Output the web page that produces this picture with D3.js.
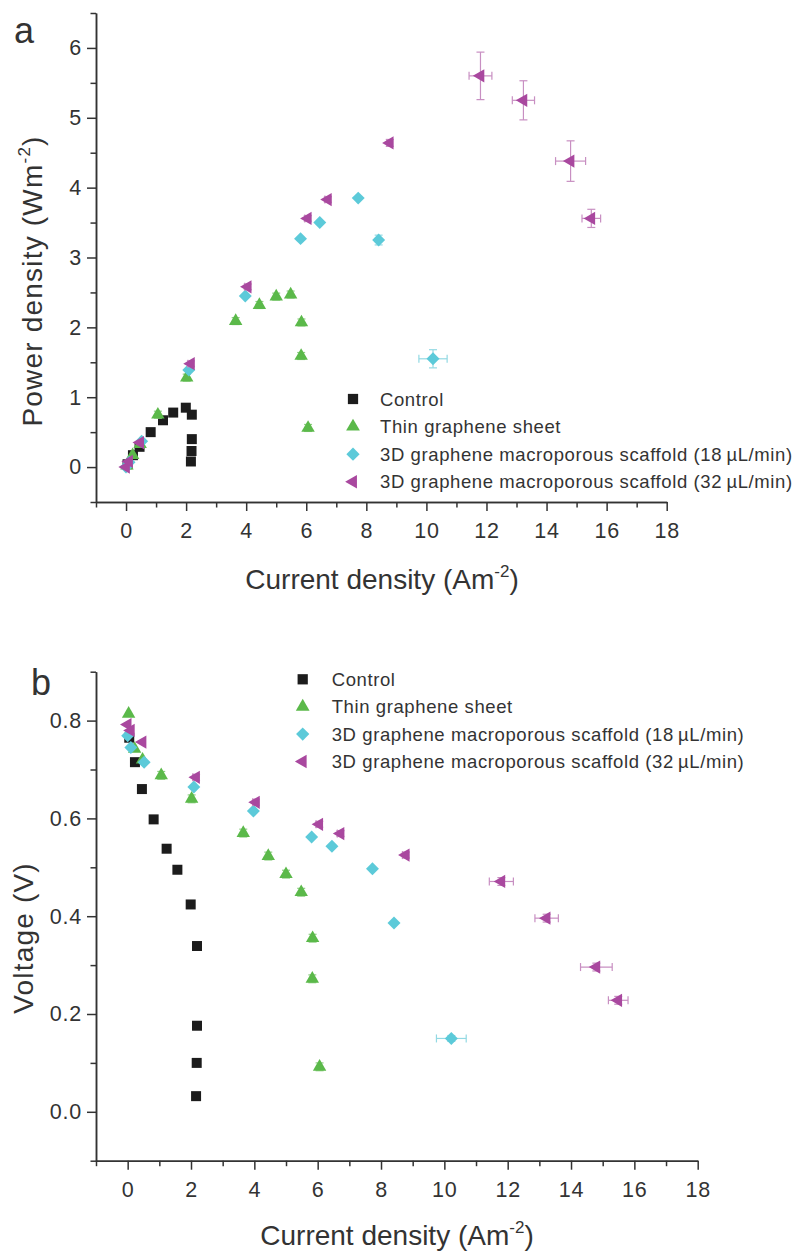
<!DOCTYPE html>
<html>
<head>
<meta charset="utf-8">
<script src="https://cdn.jsdelivr.net/npm/d3@7"></script>
<style>
  body { margin: 0; background: #fff; }
  text { font-family: "Liberation Sans", Arial, sans-serif; fill: #333; }
</style>
</head>
<body>
<div id="chart"></div>
<script>
// Series names (legend)
const seriesNames = [
  'Control',
  'Thin graphene sheet',
  '3D graphene macroporous scaffold (18\u2009\u00b5L/min)',
  '3D graphene macroporous scaffold (32\u2009\u00b5L/min)'
];

// Control
const currentControl = [0.05, 0.23, 0.45, 0.82, 1.23, 1.57, 1.99, 2.19, 2.19, 2.18, 2.16];
const powerControl = [0.04, 0.17, 0.29, 0.50, 0.67, 0.78, 0.85, 0.75, 0.40, 0.23, 0.08];
const voltageControl = [0.765, 0.715, 0.66, 0.598, 0.538, 0.495, 0.424, 0.339, 0.176, 0.100, 0.032];

// Thin graphene sheet
const currentThin = [0.03, 0.22, 0.47, 1.06, 2.02, 3.65, 4.44, 5.0, 5.48, 5.84, 5.83, 6.06];
const powerThin = [0.02, 0.17, 0.33, 0.75, 1.28, 2.09, 2.32, 2.44, 2.47, 2.07, 1.59, 0.56];
const voltageThin = [0.814, 0.742, 0.72, 0.688, 0.64, 0.57, 0.523, 0.486, 0.449, 0.355, 0.272, 0.092];
const powerErrThin = [0, 0, 0, 0.05, 0.05, 0.05, 0.05, 0.05, 0.05, 0.05, 0.05, 0.05];
const voltageErrThin = [0, 0, 0, 0.008, 0.008, 0.008, 0.008, 0.008, 0.008, 0.008, 0.008, 0.008];

// 3D scaffold 18 uL/min
const current18 = [0.0, 0.1, 0.52, 2.09, 3.97, 5.81, 6.45, 7.73, 8.41, 10.22];
const power18 = [0.0, 0.07, 0.37, 1.39, 2.45, 3.27, 3.50, 3.85, 3.25, 1.55];
const voltage18 = [0.769, 0.745, 0.715, 0.664, 0.615, 0.562, 0.543, 0.497, 0.386, 0.150];
const currentErr18 = [0, 0, 0, 0, 0, 0, 0, 0, 0.05, 0.47];
const powerErr18 = [0, 0, 0, 0, 0, 0, 0, 0, 0.07, 0.13];
const voltageErr18 = [0, 0, 0, 0, 0, 0, 0, 0, 0, 0.006];

// 3D scaffold 32 uL/min
const current32 = [0.0, 0.1, 0.47, 2.16, 4.05, 6.05, 6.72, 8.78, 11.8, 13.23, 14.8, 15.49];
const power32 = [0.0, 0.08, 0.35, 1.48, 2.58, 3.56, 3.83, 4.64, 5.60, 5.25, 4.38, 3.56];
const voltage32 = [0.792, 0.78, 0.756, 0.684, 0.633, 0.588, 0.569, 0.525, 0.471, 0.396, 0.296, 0.228];
const currentErr32 = [0, 0, 0, 0.1, 0.1, 0.1, 0.1, 0.1, 0.38, 0.37, 0.5, 0.31];
const powerErr32 = [0, 0, 0, 0.04, 0.04, 0.04, 0.04, 0.05, 0.34, 0.28, 0.29, 0.13];
const voltageErr32 = [0, 0, 0, 0.006, 0.006, 0.006, 0.006, 0.006, 0.008, 0.008, 0.008, 0.008];

// Axis ticks
const xTicks = [0, 2, 4, 6, 8, 10, 12, 14, 16, 18];
const xMinor = [-1, 1, 3, 5, 7, 9, 11, 13, 15, 17];
const powerTicks = [0, 1, 2, 3, 4, 5, 6];
const powerMinor = [-0.5, 0.5, 1.5, 2.5, 3.5, 4.5, 5.5, 6.5];
const voltageTicks = [0.0, 0.2, 0.4, 0.6, 0.8];
const voltageMinor = [-0.1, 0.1, 0.3, 0.5, 0.7, 0.9];

// Estilos de cada serie
const styles = [
  { color: '#1c1c1c', err: '#555', shape: d3.symbolSquare, size: 100, rot: 0 },
  { color: '#5bb94a', err: '#8fcf84', shape: d3.symbolTriangle, size: 78, rot: 0 },
  { color: '#5ccad9', err: '#93d9e3', shape: d3.symbolSquare, size: 84, rot: 45 },
  { color: '#a9489f', err: '#c88fc2', shape: d3.symbolTriangle, size: 76, rot: -90 }
];

const svg = d3.select('#chart').append('svg')
  .attr('width', 799).attr('height', 1253);

function makeSeries(xs, ys, xe, ye) {
  return xs.map((x, i) => ({ x: x, y: ys[i], xe: xe ? xe[i] : 0, ye: ye ? ye[i] : 0 }));
}

function drawPanel(cfg) {
  const x = d3.scaleLinear().domain([-1, 18]).range(cfg.xRange);
  const y = d3.scaleLinear().domain(cfg.yDomain).range(cfg.yRange);
  const g = svg.append('g');

  // Ejes
  g.append('g').attr('transform', `translate(0,${cfg.yRange[0]})`)
    .call(d3.axisBottom(x).tickValues(xTicks).tickSize(9).tickSizeOuter(0).tickPadding(12));
  g.append('g').attr('transform', `translate(0,${cfg.yRange[0]})`)
    .call(d3.axisBottom(x).tickValues(xMinor).tickSize(5.5).tickSizeOuter(0).tickFormat(() => ''));
  g.append('g').attr('transform', `translate(${cfg.xRange[0]},0)`)
    .call(d3.axisLeft(y).tickValues(cfg.yTicks).tickSize(9).tickSizeOuter(0).tickPadding(5)
      .tickFormat(cfg.yFormat));
  g.append('g').attr('transform', `translate(${cfg.xRange[0]},0)`)
    .call(d3.axisLeft(y).tickValues(cfg.yMinor).tickSize(5.5).tickSizeOuter(0).tickFormat(() => ''));

  g.selectAll('.domain, .tick line').attr('stroke', '#333').attr('stroke-width', 1.5);
  g.selectAll('.tick text').attr('font-size', 21.5).attr('fill', '#333')
    .style('font-family', '"Liberation Sans", Arial, sans-serif')
    .style('letter-spacing', '0.8px');

  // Series: error bars then markers
  cfg.series.forEach((data, si) => {
    const st = styles[si];
    const eg = g.append('g').attr('stroke', st.err).attr('stroke-width', 1.2);
    data.forEach((d) => {
      if (d.ye > 0) {
        const y0 = y(d.y - d.ye), y1 = y(d.y + d.ye), cx = x(d.x);
        eg.append('line').attr('x1', cx).attr('x2', cx).attr('y1', y0).attr('y2', y1);
        eg.append('line').attr('x1', cx - 4).attr('x2', cx + 4).attr('y1', y0).attr('y2', y0);
        eg.append('line').attr('x1', cx - 4).attr('x2', cx + 4).attr('y1', y1).attr('y2', y1);
      }
      if (d.xe > 0) {
        const x0 = x(d.x - d.xe), x1 = x(d.x + d.xe), cy = y(d.y);
        eg.append('line').attr('x1', x0).attr('x2', x1).attr('y1', cy).attr('y2', cy);
        eg.append('line').attr('x1', x0).attr('x2', x0).attr('y1', cy - 4).attr('y2', cy + 4);
        eg.append('line').attr('x1', x1).attr('x2', x1).attr('y1', cy - 4).attr('y2', cy + 4);
      }
    });
    g.append('g').selectAll('path').data(data).join('path')
      .attr('d', d3.symbol().type(st.shape).size(st.size))
      .attr('transform', (d) => `translate(${x(d.x)},${y(d.y)}) rotate(${st.rot})`)
      .attr('fill', st.color);
  });

  // Leyenda
  seriesNames.forEach((name, i) => {
    const st = styles[i];
    const ly = cfg.legend.y + i * cfg.legend.step;
    g.append('path')
      .attr('d', d3.symbol().type(st.shape).size(st.size * 1.05))
      .attr('transform', `translate(${cfg.legend.x},${ly}) rotate(${st.rot})`)
      .attr('fill', st.color);
    g.append('text').attr('x', cfg.legend.x + cfg.legend.gap).attr('y', ly).attr('dy', '0.36em')
      .attr('font-size', 18.5).style('letter-spacing', '0.6px').text(name);
  });

  // Títulos de ejes
  const xt = g.append('text').attr('x', cfg.xLabel.x).attr('y', cfg.xLabel.y)
    .attr('text-anchor', 'middle').attr('font-size', 28);
  xt.append('tspan').text('Current density (Am');
  xt.append('tspan').attr('font-size', 17).attr('dy', -12).text('-2');
  xt.append('tspan').attr('dy', 12).text(')');

  const yt = g.append('text')
    .attr('transform', `translate(${cfg.yLabel.x},${cfg.yLabel.y}) rotate(-90)`)
    .attr('text-anchor', 'middle').attr('font-size', 28).style('letter-spacing', '1.2px');
  cfg.yLabel.parts.forEach((p) => {
    const t = yt.append('tspan').text(p.t);
    if (p.sup) t.attr('font-size', 17).attr('dy', p.dy);
    else if (p.dy) t.attr('dy', p.dy);
  });

  g.append('text').attr('x', cfg.letter.x).attr('y', cfg.letter.y)
    .attr('font-size', 36).text(cfg.letter.t);
}

drawPanel({
  xRange: [96, 666.7],
  yDomain: [-0.5, 6.5],
  yRange: [502, 13],
  yTicks: powerTicks,
  yMinor: powerMinor,
  yFormat: d3.format('d'),
  series: [
    makeSeries(currentControl, powerControl),
    makeSeries(currentThin, powerThin, null, powerErrThin),
    makeSeries(current18, power18, currentErr18, powerErr18),
    makeSeries(current32, power32, currentErr32, powerErr32)
  ],
  legend: { x: 353, y: 399, step: 27.6, gap: 27 },
  xLabel: { x: 382, y: 589 },
  yLabel: { x: 42, y: 281, parts: [{ t: 'Power density (Wm' }, { t: '-2', sup: true, dy: -12 }, { t: ')', dy: 12 }] },
  letter: { x: 14, y: 43, t: 'a' }
});

drawPanel({
  xRange: [96, 697.7],
  yDomain: [-0.1, 0.9],
  yRange: [1160.7, 671.7],
  yTicks: voltageTicks,
  yMinor: voltageMinor,
  yFormat: d3.format('.1f'),
  series: [
    makeSeries(currentControl, voltageControl),
    makeSeries(currentThin, voltageThin, null, voltageErrThin),
    makeSeries(current18, voltage18, currentErr18, voltageErr18),
    makeSeries(current32, voltage32, currentErr32, voltageErr32)
  ],
  legend: { x: 302.7, y: 679.3, step: 27.4, gap: 29 },
  xLabel: { x: 397, y: 1245 },
  yLabel: { x: 33, y: 938, parts: [{ t: 'Voltage (V)' }] },
  letter: { x: 31, y: 695, t: 'b' }
});
</script>
</body>
</html>
